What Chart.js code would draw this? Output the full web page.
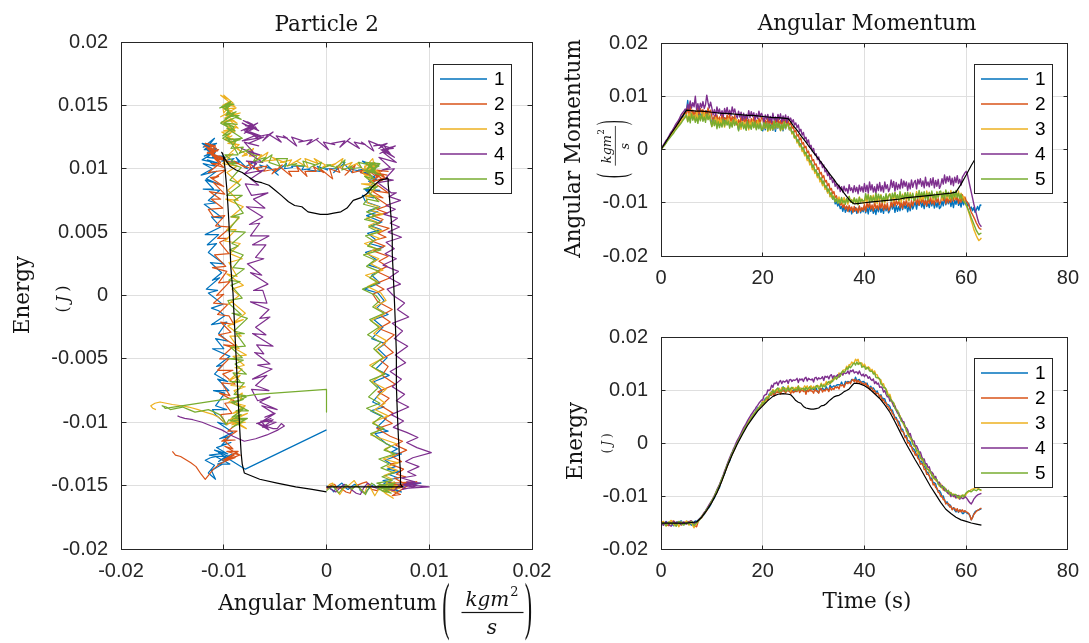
<!DOCTYPE html>
<html><head><meta charset="utf-8">
<script src="https://cdn.jsdelivr.net/npm/chart.js@4.4.1/dist/chart.umd.min.js"></script>
<style>
html,body{margin:0;padding:0;background:#fff;}
body{width:1089px;height:643px;position:relative;overflow:hidden;}
canvas{position:absolute;}
#c1{left:0;top:0;}
#c2{left:545px;top:0;}
#c3{left:545px;top:300px;}
</style></head><body>
<canvas id="c2" width="544" height="300"></canvas>
<canvas id="c3" width="544" height="343"></canvas>
<canvas id="c1" width="590" height="643"></canvas>
<script>
// ---------------- DATA ----------------
const SERIES_NAMES = ['1', '2', '3', '4', '5'];
const SERIES_COLORS = ['#0072BD', '#D95319', '#EDB120', '#7E2F8E', '#77AC30'];
const UNIT = 1e-4;        // all values below are in units of 1e-4 (kg m^2/s or J)
const SAMPLE_DT = 0.25;   // s between samples of the measured series (each row = 5 s)

// Angular momentum of particle 2, runs 1..5
const am1 = [0,5,7,10,15,19,21,27,31,33,37,43,46,47,50,57,62,60,65,72,
  71,92,68,56,73,61,69,57,66,55,70,60,72,59,67,57,73,62,69,58,
  47,60,49,58,43,56,45,54,46,61,48,59,50,57,44,55,46,60,49,56,
  50,37,52,44,53,41,49,38,55,42,48,40,53,43,54,39,50,41,52,38,
  35,46,37,52,39,49,41,50,36,47,34,48,40,51,38,45,35,49,39,50,
  45,37,39,31,33,22,25,16,18,7,11,-1,1,-9,-6,-18,-16,-24,-22,-34,
  -33,-41,-39,-50,-47,-58,-54,-65,-63,-71,-69,-80,-77,-88,-85,-93,-90,-102,-98,-106,
  -101,-111,-107,-116,-106,-118,-112,-108,-117,-110,-121,-111,-116,-109,-120,-113,-107,-119,-112,-117,
  -106,-119,-109,-121,-104,-116,-108,-120,-111,-122,-107,-117,-105,-118,-110,-120,-104,-115,-108,-119,
  -114,-101,-112,-103,-118,-105,-116,-107,-115,-100,-113,-102,-111,-104,-117,-106,-115,-101,-112,-105,
  -99,-112,-97,-105,-96,-108,-100,-111,-94,-107,-101,-109,-96,-106,-95,-110,-99,-108,-97,-111,
  -108,-97,-106,-91,-104,-94,-102,-93,-107,-96,-109,-95,-103,-92,-105,-98,-108,-94,-104,-93,
  -99,-106,-101,-112,-108,-115,-109,-118,-113,-107,-114,-104,-105];
const am2 = [0,4,8,10,14,19,23,25,29,35,39,41,44,49,53,55,58,64,68,70,
  65,78,67,88,61,74,63,72,64,79,66,77,68,75,62,73,64,78,67,74,
  62,49,64,56,65,53,61,50,67,54,60,52,65,55,66,51,62,53,64,50,
  45,56,47,62,49,59,51,60,46,57,44,58,50,61,48,55,45,59,49,60,
  58,45,55,43,60,48,56,44,53,42,57,47,59,46,54,44,60,49,56,45,
  54,46,50,40,43,33,36,25,28,18,22,10,13,3,6,-6,-3,-13,-10,-21,
  -19,-29,-27,-37,-34,-46,-43,-53,-49,-61,-58,-68,-64,-76,-73,-83,-79,-90,-87,-97,
  -93,-104,-100,-109,-103,-112,-106,-116,-105,-114,-108,-118,-107,-115,-110,-119,-106,-116,-109,-114,
  -103,-116,-101,-109,-100,-112,-104,-115,-98,-111,-105,-113,-100,-110,-99,-114,-103,-112,-101,-115,
  -110,-99,-108,-93,-106,-96,-104,-95,-109,-98,-111,-97,-105,-94,-107,-100,-110,-96,-106,-95,
  -90,-103,-93,-105,-88,-100,-92,-104,-95,-106,-91,-101,-89,-102,-94,-104,-88,-99,-92,-103,
  -98,-85,-96,-87,-102,-89,-100,-91,-99,-84,-97,-86,-95,-88,-101,-90,-99,-85,-96,-89,
  -96,-99,-104,-110,-118,-122,-127,-132,-138,-142,-147,-149,-150];
const am3 = [0,3,6,9,13,17,20,24,27,30,34,37,40,43,47,50,53,57,60,63,
  66,53,68,60,69,57,65,54,71,58,64,56,69,59,70,55,66,57,68,54,
  43,54,45,60,47,57,49,58,44,55,42,56,48,59,46,53,43,57,47,58,
  53,40,50,38,55,43,51,39,48,37,52,42,54,41,49,39,55,44,51,40,
  38,51,40,49,34,47,36,45,37,52,39,50,41,48,35,46,37,51,40,47,
  45,37,40,29,32,21,25,12,16,5,9,-4,-1,-12,-8,-21,-18,-29,-25,-38,
  -34,-45,-41,-53,-49,-61,-57,-68,-63,-75,-71,-82,-77,-89,-84,-93,-87,-98,-92,-99,
  -89,-100,-92,-102,-90,-98,-93,-103,-88,-99,-94,-101,-91,-100,-96,-103,-89,-99,-93,-100,
  -101,-90,-99,-84,-97,-87,-95,-86,-100,-89,-102,-88,-96,-85,-98,-91,-101,-87,-97,-86,
  -83,-96,-86,-98,-81,-93,-85,-97,-88,-99,-84,-94,-82,-95,-87,-97,-81,-92,-85,-96,
  -92,-79,-90,-81,-96,-83,-94,-85,-93,-78,-91,-80,-89,-82,-95,-84,-93,-79,-90,-83,
  -82,-95,-80,-88,-79,-91,-83,-94,-77,-90,-84,-92,-79,-89,-78,-93,-82,-91,-88,-97,
  -105,-110,-118,-125,-134,-141,-150,-156,-162,-167,-171,-169,-166];
const am4 = [0,5,9,13,17,20,24,29,33,36,40,45,49,52,56,61,66,69,72,76,
  74,85,76,91,78,88,80,100,75,86,73,87,79,90,77,84,102,88,78,89,
  78,65,75,63,80,68,76,64,73,62,77,67,79,66,74,64,80,69,76,65,
  59,72,61,70,55,68,57,66,58,73,60,71,62,69,56,67,58,72,61,68,
  63,50,65,57,66,54,62,51,68,55,61,53,66,56,67,52,63,54,65,51,
  62,55,59,51,56,46,50,41,46,34,38,27,32,20,23,13,18,5,8,-3,
  2,-10,-8,-19,-14,-27,-23,-34,-29,-42,-38,-49,-44,-56,-52,-62,-57,-69,-64,-74,
  -67,-79,-70,-80,-69,-78,-73,-82,-66,-77,-72,-81,-68,-79,-71,-83,-67,-78,-70,-80,
  -64,-79,-67,-82,-61,-76,-66,-80,-70,-83,-65,-77,-62,-78,-68,-80,-61,-74,-66,-79,
  -73,-57,-71,-60,-78,-62,-75,-65,-74,-56,-72,-59,-69,-61,-77,-63,-74,-57,-71,-62,
  -58,-74,-56,-65,-55,-69,-59,-72,-52,-68,-61,-70,-55,-67,-53,-72,-58,-69,-56,-73,
  -67,-55,-65,-48,-63,-51,-60,-50,-66,-54,-68,-52,-62,-49,-64,-56,-67,-52,-48,-44,
  -41,-47,-58,-69,-80,-91,-102,-112,-121,-130,-138,-142,-145];
const am5 = [0,3,6,9,12,16,19,22,25,28,31,35,38,41,44,47,50,54,57,60,
  65,52,62,50,67,55,63,51,60,49,64,54,66,53,61,51,67,56,63,52,
  43,56,45,54,39,52,41,50,42,57,44,55,46,53,40,51,42,56,45,52,
  48,35,50,42,51,39,47,36,53,40,46,38,51,41,52,37,48,39,50,36,
  40,51,41,50,36,48,37,46,38,53,40,51,42,49,36,47,38,52,41,48,
  47,39,42,31,34,23,25,15,18,8,10,0,4,-8,-5,-16,-11,-23,-21,-33,
  -29,-41,-38,-49,-45,-56,-53,-64,-59,-71,-68,-79,-74,-85,-81,-93,-88,-98,-92,-101,
  -94,-101,-90,-100,-96,-103,-92,-99,-88,-98,-95,-102,-91,-99,-93,-104,-90,-98,-94,-97,
  -96,-83,-94,-85,-100,-87,-98,-89,-97,-82,-95,-84,-93,-86,-99,-88,-97,-83,-94,-87,
  -84,-97,-82,-90,-81,-93,-85,-96,-79,-92,-86,-94,-81,-91,-80,-95,-84,-93,-82,-96,
  -94,-83,-92,-77,-90,-80,-88,-79,-93,-82,-95,-81,-89,-78,-91,-84,-94,-80,-90,-79,
  -78,-91,-81,-93,-76,-88,-80,-92,-83,-94,-79,-89,-77,-90,-82,-92,-84,-95,-98,-100,
  -104,-109,-115,-121,-128,-134,-140,-146,-152,-156,-160,-158,-157];

// Energy of particle 2, runs 1..5
const en1 = [-150,-153,-155,-151,-148,-152,-153,-149,-150,-154,-156,-151,-149,-150,-152,-148,-147,-151,-154,-150,
  -151,-148,-149,-153,-155,-151,-150,-147,-148,-146,-144,-141,-139,-137,-135,-130,-125,-124,-121,-117,
  -109,-107,-104,-97,-91,-88,-84,-75,-68,-63,-58,-49,-42,-38,-34,-25,-19,-15,-10,-4,
  2,5,10,16,21,24,28,34,38,41,44,49,52,55,58,63,66,67,70,74,
  79,77,84,83,83,92,90,97,98,93,97,98,98,103,96,103,106,98,98,103,
  104,97,100,99,98,100,97,105,105,97,100,100,99,102,98,99,100,99,102,102,
  101,100,104,97,95,103,100,103,101,100,106,101,100,109,105,106,108,106,109,110,
  110,109,115,109,108,116,113,116,115,114,120,118,117,124,117,119,120,115,115,116,
  115,110,113,107,104,107,102,104,100,95,98,92,88,91,84,84,83,75,73,72,
  69,61,62,54,48,48,40,41,34,25,26,18,12,14,5,4,2,-7,-10,-12,
  -16,-23,-21,-30,-36,-34,-42,-42,-48,-56,-55,-62,-68,-66,-75,-75,-77,-87,-90,-90,
  -94,-102,-100,-108,-113,-111,-118,-116,-120,-125,-122,-127,-130,-125,-131,-127,-127,-133,-133,-128,
  -131,-133,-133,-138,-145,-140,-134,-130,-128,-127,-126,-125,-124];
const en2 = [-153,-150,-149,-152,-152,-155,-156,-152,-150,-148,-147,-150,-153,-154,-151,-149,-155,-152,-149,-151,
  -152,-149,-150,-147,-148,-151,-154,-157,-158,-150,-144,-143,-141,-137,-133,-131,-127,-122,-118,-115,
  -111,-105,-101,-97,-93,-87,-81,-76,-70,-63,-56,-51,-45,-38,-31,-26,-21,-16,-11,-5,
  1,5,9,14,19,23,27,31,35,39,43,46,49,53,56,60,63,65,68,71,
  72,79,77,83,81,88,92,90,96,89,93,97,95,97,92,99,98,99,94,99,
  98,99,93,99,95,97,99,97,103,95,98,102,97,100,92,100,97,102,98,98,
  94,102,98,98,94,102,103,96,100,98,102,101,97,105,100,103,101,106,104,106,
  102,110,108,110,105,111,115,112,115,112,118,120,116,120,114,118,114,116,111,113,
  109,113,107,108,101,104,104,97,99,92,94,93,86,89,80,82,76,76,69,68,
  62,63,55,54,45,45,42,33,32,23,22,19,10,11,0,1,-6,-7,-15,-16,
  -23,-21,-29,-31,-40,-39,-41,-50,-50,-59,-59,-62,-70,-69,-79,-77,-84,-85,-93,-94,
  -101,-100,-107,-107,-115,-114,-114,-121,-119,-126,-123,-123,-128,-124,-130,-126,-130,-126,-130,-128,
  -130,-131,-133,-137,-145,-141,-135,-132,-129,-127,-126,-124,-123];
const en3 = [-152,-149,-148,-153,-157,-152,-151,-148,-146,-150,-154,-156,-150,-152,-158,-154,-149,-151,-153,-150,
  -147,-152,-155,-151,-150,-156,-160,-154,-152,-148,-145,-142,-138,-135,-132,-129,-126,-121,-117,-113,
  -110,-105,-100,-95,-90,-85,-80,-74,-68,-62,-55,-49,-43,-36,-30,-25,-20,-14,-9,-4,
  2,7,11,16,20,25,29,33,37,41,45,48,51,55,58,61,64,67,70,73,
  79,78,78,86,88,88,96,93,101,97,100,98,101,103,97,105,102,104,103,100,
  108,101,97,104,105,101,105,101,108,102,104,101,103,108,104,108,101,106,108,102,
  107,105,105,109,107,106,113,107,111,110,116,110,111,117,114,122,119,123,126,123,
  132,130,130,137,138,138,145,141,148,147,153,150,152,158,155,158,149,151,151,144,
  149,144,140,144,142,136,139,132,136,129,129,122,120,119,109,112,104,102,97,89,
  92,83,75,76,70,62,61,52,52,43,41,33,29,26,15,17,8,5,0,-7,
  -5,-14,-21,-19,-24,-32,-32,-42,-40,-47,-48,-55,-57,-58,-67,-63,-71,-72,-75,-82,
  -77,-84,-89,-85,-87,-93,-91,-98,-93,-98,-96,-102,-100,-99,-105,-99,-103,-100,-98,-102,
  -96,-94,-92,-90,-88,-87,-86,-85,-84,-85,-87,-89,-90];
const en4 = [-151,-153,-155,-152,-149,-150,-153,-156,-157,-152,-148,-151,-152,-149,-150,-153,-154,-151,-149,-152,
  -153,-151,-150,-148,-147,-150,-152,-151,-149,-147,-144,-142,-139,-135,-131,-128,-124,-120,-116,-112,
  -108,-104,-99,-94,-88,-83,-78,-72,-66,-60,-53,-47,-40,-34,-28,-22,-17,-11,-6,0,
  5,9,14,19,24,29,33,37,42,46,50,54,57,61,64,68,71,75,78,81,
  81,89,91,92,100,99,101,109,105,113,112,115,109,115,118,112,117,115,116,119,
  112,119,120,116,119,118,119,122,114,121,119,121,116,122,124,117,122,120,119,121,
  115,123,124,119,123,121,122,125,118,126,124,126,121,127,129,122,127,125,126,129,
  124,131,132,128,133,131,132,136,130,137,135,138,132,134,134,130,136,130,127,130,
  125,129,127,122,125,120,118,121,112,116,111,113,105,106,104,96,99,92,87,88,
  79,81,76,69,70,62,56,57,47,47,40,40,30,29,25,16,18,9,4,4,
  -6,-5,-11,-18,-17,-25,-31,-30,-40,-39,-46,-45,-54,-55,-58,-66,-63,-71,-75,-74,
  -83,-80,-84,-90,-87,-93,-96,-93,-101,-97,-101,-98,-104,-100,-99,-106,-101,-105,-105,-101,
  -103,-106,-110,-113,-115,-111,-106,-103,-100,-98,-97,-96,-95];
const en5 = [-154,-152,-150,-153,-156,-152,-149,-151,-153,-150,-151,-154,-157,-152,-148,-150,-152,-154,-155,-152,
  -150,-151,-153,-150,-148,-152,-156,-153,-151,-148,-146,-143,-140,-136,-133,-129,-125,-122,-119,-114,
  -109,-105,-101,-95,-89,-85,-80,-73,-67,-62,-56,-49,-42,-37,-31,-25,-19,-14,-9,-4,
  0,5,10,14,19,23,28,32,36,39,43,47,50,54,57,60,63,66,69,72,
  76,74,82,86,84,87,94,92,99,95,98,102,104,96,99,98,105,104,97,100,
  105,99,103,105,101,100,102,99,107,100,101,103,103,99,105,101,103,106,102,103,
  104,102,108,108,102,105,111,105,109,106,110,114,116,112,117,116,122,125,120,124,
  128,126,133,136,133,136,142,139,145,142,145,149,151,147,153,148,151,151,143,144,
  145,139,142,142,136,135,136,130,132,124,123,123,121,111,111,104,105,101,91,89,
  87,79,79,75,65,62,62,51,50,41,39,36,32,22,21,12,11,8,-2,-4,
  -7,-15,-14,-18,-28,-30,-30,-40,-41,-49,-50,-51,-54,-62,-61,-68,-68,-69,-78,-79,
  -80,-85,-82,-84,-91,-91,-89,-96,-94,-99,-98,-97,-97,-103,-100,-104,-101,-98,-102,-98,
  -94,-92,-90,-91,-92,-90,-88,-89,-90,-88,-87,-88,-89];

// Closing segments visible only in the phase plot (run 1 and run 5)
const tailAm = [[-79, 0], [], [], [], [-68, 0, 0]];
const tailEn = [[-137, -106], [], [], [], [-78, -74, -92]];

// Reference (black) curve
const refTime = [0,1,2,3,4,5,6,7,8,9,10,11,12,13,14,15,16,17,18,19,20,21,22,23,24,25,
  25.5,26,26.5,27,27.5,28,28.5,29,29.5,30,30.5,31,31.5,32,32.5,33,33.5,34,34.5,35,35.5,36,36.5,37,37.5,38,
  39,40,41,42,43,44,45,46,47,48,49,50,51,52,53,54,55,56,57,58,59,60,61,62,63];
const refAm = [0,15,30,44,59,74,73,72,72,71,70,69,68,68,67,66,65,64,64,63,62,61,60,60,59,58,
  52,45,39,33,26,20,14,7,1,-6,-12,-18,-24,-31,-37,-44,-50,-56,-63,-69,-75,-82,-88,-94,-99,-102,
  -101,-100,-99,-98,-97,-96,-95,-94,-93,-91,-90,-89,-88,-87,-86,-85,-84,-83,-82,-80,-65,-48,-30,-14,0];
const refEn = [-151,-151,-151,-151,-151,-151,-150,-149,-140,-127,-112,-94,-71,-45,-22,-2,16,33,47,60,70,80,88,92,93,92,
  91,86,80,77,75,69,66,65,64,64,65,66,70,71,74,79,83,87,89,90,93,97,99,102,108,113,
  112,108,102,93,84,72,58,40,21,2,-15,-32,-48,-65,-82,-97,-112,-125,-133,-140,-145,-148,-151,-153,-155];

// Axis ticks
const phaseXTicks = [-0.02, -0.01, 0, 0.01, 0.02];
const phaseYTicks = [-0.02, -0.015, -0.01, -0.005, 0, 0.005, 0.01, 0.015, 0.02];
const timeTicks = [0, 20, 40, 60, 80];
const valueTicks = [-0.02, -0.01, 0, 0.01, 0.02];

// ---------------- STYLE / HELPERS ----------------
const AX = '#262626';
const GRID = '#dfdfdf';
const TEXT = '#141414';
const SERIF = '"DejaVu Serif", serif';
const SANS = '"Liberation Sans", Arial, sans-serif';

const amRuns = [am1, am2, am3, am4, am5];
const enRuns = [en1, en2, en3, en4, en5];

function timePts(arr, dt) { return arr.map((v, i) => ({ x: i * dt, y: v * UNIT })); }
function refPts(arr) { return arr.map((v, i) => ({ x: refTime[i], y: v * UNIT })); }
function phasePts(a, e) {
  const n = Math.min(a.length, e.length), out = [];
  for (let i = 0; i < n; i++) out.push({ x: a[i] * UNIT, y: e[i] * UNIT });
  return out;
}
function fmtTick(v) { return String(Number(Number(v).toPrecision(6))); }
function al(p) { return Math.round(p - 0.5) + 0.5; }

function runDatasets(pointsFor, w) {
  return SERIES_NAMES.map((name, i) => ({
    label: name, data: pointsFor(i), borderColor: SERIES_COLORS[i], backgroundColor: SERIES_COLORS[i],
    borderWidth: w, pointRadius: 0, showLine: true, borderJoinStyle: 'round', order: 10 - i
  }));
}
function refDataset(data) {
  return { label: 'ref', data, borderColor: '#000', backgroundColor: '#000', borderWidth: 1.2,
    pointRadius: 0, showLine: true, borderJoinStyle: 'round', order: 0 };
}

function drawParen(ctx, ch, cx, H) {
  ctx.save();
  ctx.font = '22px "Liberation Serif", serif';
  ctx.textAlign = 'center'; ctx.textBaseline = 'alphabetic';
  const m = ctx.measureText(ch);
  const asc = m.actualBoundingBoxAscent, desc = m.actualBoundingBoxDescent;
  const k = H / (asc + desc);
  ctx.translate(cx, 0); ctx.scale(1, k);
  ctx.fillText(ch, 0, (asc - desc) / 2);
  ctx.restore();
}
function drawFrac(ctx, x, y, s, rot) {
  ctx.save();
  ctx.translate(x, y); ctx.rotate(rot); ctx.scale(s, s);
  ctx.fillStyle = TEXT;
  drawParen(ctx, '(', -41.5, 57);
  drawParen(ctx, ')', 41, 57);
  ctx.textBaseline = 'alphabetic'; ctx.textAlign = 'left';
  ctx.font = 'italic 20px ' + SERIF;
  const wNum = ctx.measureText('kgm').width;
  ctx.font = '13px ' + SERIF;
  const wSup = ctx.measureText('2').width;
  const x0 = 4.5 - (wNum + wSup + 1) / 2;
  ctx.font = 'italic 20px ' + SERIF; ctx.fillText('kgm', x0, -7);
  ctx.font = '13px ' + SERIF; ctx.fillText('2', x0 + wNum + 1, -17);
  ctx.fillRect(-26, -0.6, 62, 1.2);
  ctx.font = 'italic 20px ' + SERIF; ctx.textAlign = 'center'; ctx.fillText('s', 4.5, 21);
  ctx.restore();
}
function drawRich(ctx, segs, x, y, rot) {
  ctx.save(); ctx.translate(x, y); ctx.rotate(rot || 0);
  ctx.fillStyle = TEXT; ctx.textBaseline = 'middle'; ctx.textAlign = 'left';
  let total = 0;
  const w = segs.map(s => { ctx.font = s.font; const ww = ctx.measureText(s.text).width + (s.gap || 0); total += ww; return ww; });
  let cx = -total / 2;
  segs.forEach((s, i) => { ctx.font = s.font; ctx.fillText(s.text, cx, 0); cx += w[i]; });
  ctx.restore();
}
function drawText(ctx, t) {
  ctx.save(); ctx.translate(t.x, t.y); ctx.rotate(t.rot || 0);
  ctx.fillStyle = TEXT; ctx.font = t.font; ctx.textAlign = 'center'; ctx.textBaseline = t.baseline || 'alphabetic';
  ctx.fillText(t.text, 0, 0);
  ctx.restore();
}

function makeDeco(cfg) {
  return {
    id: 'deco',
    afterDraw(chart) {
      const ctx = chart.ctx, a = chart.chartArea;
      const xs = chart.scales.x, ys = chart.scales.y;
      const l = al(a.left), r = al(a.right), t = al(a.top), b = al(a.bottom);
      ctx.save();
      ctx.strokeStyle = AX; ctx.lineWidth = 1;
      ctx.beginPath();
      const L = cfg.tickLen;
      xs.ticks.forEach(tk => { const px = al(xs.getPixelForValue(tk.value)); ctx.moveTo(px, b); ctx.lineTo(px, b - L); ctx.moveTo(px, t); ctx.lineTo(px, t + L); });
      ys.ticks.forEach(tk => { const py = al(ys.getPixelForValue(tk.value)); ctx.moveTo(l, py); ctx.lineTo(l + L, py); ctx.moveTo(r, py); ctx.lineTo(r - L, py); });
      ctx.stroke();
      ctx.strokeRect(l, t, r - l, b - t);
      // legend
      const lg = cfg.legend;
      ctx.fillStyle = '#fff';
      ctx.fillRect(lg.x, lg.y, lg.w, lg.h);
      ctx.strokeStyle = AX; ctx.lineWidth = 1;
      ctx.strokeRect(al(lg.x), al(lg.y), lg.w, lg.h);
      ctx.font = '19px ' + SANS; ctx.textAlign = 'left'; ctx.textBaseline = 'middle';
      SERIES_NAMES.forEach((name, i) => {
        const yy = lg.row0 + i * lg.dy;
        ctx.strokeStyle = SERIES_COLORS[i]; ctx.lineWidth = 1.3;
        ctx.beginPath(); ctx.moveTo(lg.l0, yy); ctx.lineTo(lg.l1, yy); ctx.stroke();
        ctx.fillStyle = '#000'; ctx.fillText(name, lg.tx, yy + 1);
      });
      // texts
      (cfg.texts || []).forEach(tx => drawText(ctx, tx));
      (cfg.rich || []).forEach(rc => drawRich(ctx, rc.segs, rc.x, rc.y, rc.rot));
      (cfg.fracs || []).forEach(f => drawFrac(ctx, f.x, f.y, f.s, f.rot));
      ctx.restore();
    }
  };
}

function axis(min, max, ticks, dir, size, pad) {
  return {
    type: 'linear', min, max, position: dir === 'x' ? 'bottom' : 'left',
    afterBuildTicks: s => { s.ticks = ticks.map(v => ({ value: v })); },
    afterFit: s => { if (dir === 'x') s.height = size; else s.width = size; },
    ticks: { callback: fmtTick, font: { family: SANS, size: 20 }, color: AX, padding: pad, maxRotation: 0, minRotation: 0, autoSkip: false },
    grid: { color: GRID, lineWidth: 1, drawTicks: false },
    border: { display: false }
  };
}

function makeChart(id, o) {
  return new Chart(document.getElementById(id), {
    type: 'scatter',
    data: { datasets: o.datasets },
    options: {
      responsive: false, animation: false, events: [],
      layout: { padding: o.padding },
      plugins: { legend: { display: false }, tooltip: { enabled: false }, title: { display: false } },
      scales: {
        x: axis(o.x[0], o.x[1], o.xTicks, 'x', o.xSize, 10),
        y: axis(o.y[0], o.y[1], o.yTicks, 'y', o.ySize, 13)
      }
    },
    plugins: [makeDeco(o.deco)]
  });
}

// ---------------- CHARTS ----------------
const RM = -Math.PI / 2;

// Left: phase plot, particle 2
const phaseSets = runDatasets(i => phasePts(amRuns[i].concat(tailAm[i]), enRuns[i].concat(tailEn[i])), 1.2);
phaseSets.push(refDataset(phasePts(refAm, refEn)));
makeChart('c1', {
  datasets: phaseSets, x: [-0.02, 0.02], y: [-0.02, 0.02], xTicks: phaseXTicks, yTicks: phaseYTicks,
  padding: { left: 0, top: 42, right: 58, bottom: 0 }, xSize: 94, ySize: 121,
  deco: {
    tickLen: 5,
    legend: { x: 433, y: 64, w: 78, h: 129, l0: 440, l1: 487, tx: 494, row0: 79, dy: 25 },
    texts: [
      { text: 'Particle 2', x: 326.7, y: 31, font: '21.5px ' + SERIF },
      { text: 'Energy', x: 23.5, y: 295, rot: RM, font: '21.5px ' + SERIF, baseline: 'middle' },
      { text: 'Angular Momentum', x: 327.6, y: 610, font: '21.5px ' + SERIF }
    ],
    rich: [{ x: 63.4, y: 299, rot: RM, segs: [
      { text: '(', font: '16px ' + SERIF, gap: 4 }, { text: 'J', font: 'italic 16px ' + SERIF, gap: 4 }, { text: ')', font: '16px ' + SERIF }] }],
    fracs: [{ x: 487.5, y: 612.5, s: 1, rot: 0 }]
  }
});

// Top right: angular momentum vs time
const amSets = runDatasets(i => timePts(amRuns[i], SAMPLE_DT), 1.4);
amSets.push(refDataset(refPts(refAm)));
makeChart('c2', {
  datasets: amSets, x: [0, 80], y: [-0.02, 0.02], xTicks: timeTicks, yTicks: valueTicks,
  padding: { left: 0, top: 43, right: 16, bottom: 0 }, xSize: 44, ySize: 116,
  deco: {
    tickLen: 4,
    legend: { x: 429, y: 64, w: 78, h: 129, l0: 436, l1: 483, tx: 490, row0: 79, dy: 25 },
    texts: [
      { text: 'Angular Momentum', x: 322, y: 30, font: '21.5px ' + SERIF },
      { text: 'Angular Momentum', x: 29.5, y: 148.5, rot: RM, font: '21.5px ' + SERIF, baseline: 'middle' }
    ],
    fracs: [{ x: 70.3, y: 149, s: 0.64, rot: RM }]
  }
});

// Bottom right: energy vs time
const enSets = runDatasets(i => timePts(enRuns[i], SAMPLE_DT), 1.4);
enSets.push(refDataset(refPts(refEn)));
makeChart('c3', {
  datasets: enSets, x: [0, 80], y: [-0.02, 0.02], xTicks: timeTicks, yTicks: valueTicks,
  padding: { left: 0, top: 37, right: 16, bottom: 0 }, xSize: 94, ySize: 116,
  deco: {
    tickLen: 4,
    legend: { x: 429, y: 58, w: 78, h: 129, l0: 436, l1: 483, tx: 490, row0: 73, dy: 25 },
    texts: [
      { text: 'Energy', x: 31, y: 141, rot: RM, font: '21.5px ' + SERIF, baseline: 'middle' },
      { text: 'Time (s)', x: 322, y: 308, font: '21.5px ' + SERIF }
    ],
    rich: [{ x: 63, y: 143.3, rot: RM, segs: [
      { text: '(', font: '12px ' + SERIF, gap: 3 }, { text: 'J', font: 'italic 12px ' + SERIF, gap: 3 }, { text: ')', font: '12px ' + SERIF }] }]
  }
});
</script>
</body></html>
